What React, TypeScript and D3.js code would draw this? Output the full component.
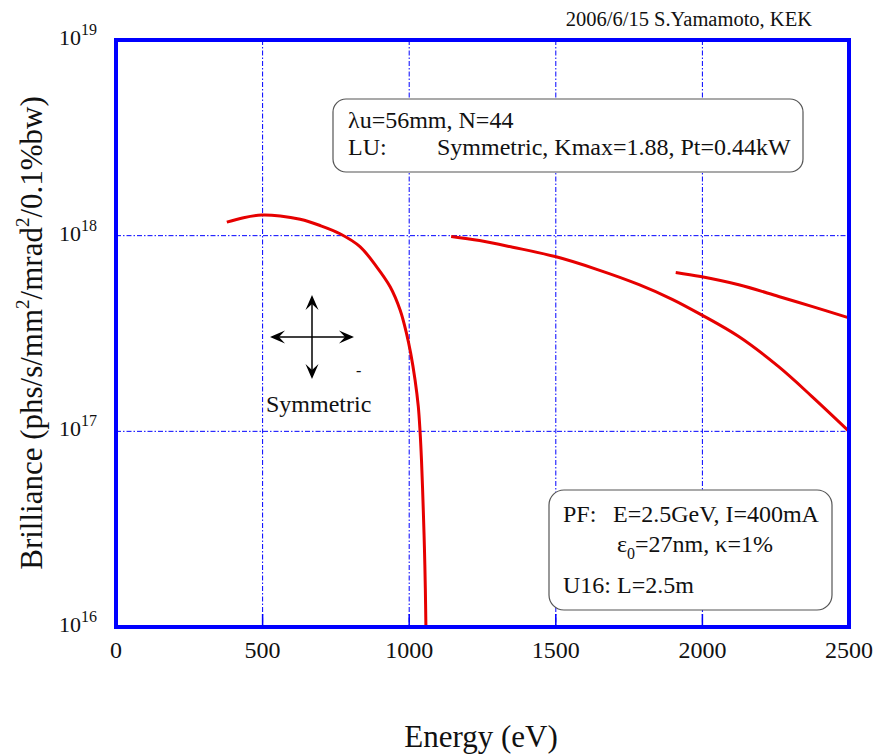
import React from 'react';
import * as d3 from 'd3';

// Brilliance curves (energy in eV, brilliance in phs/s/mm^2/mrad^2/0.1%bw)
const fundEnergy = [378, 435, 497, 560, 628, 696, 764, 832, 889, 935, 969, 991, 1005, 1020, 1031, 1037, 1042, 1048, 1052, 1055, 1057];
const fundBrill = [1.172e18, 1.236e18, 1.276e18, 1.262e18, 1.213e18, 1.127e18, 1.023e18, 8.79e17, 6.93e17, 5.48e17, 4.17e17, 3.16e17, 2.51e17, 1.83e17, 1.34e17, 1.0e17, 7.08e16, 3.98e16, 2.51e16, 1.58e16, 1.0e16];
const thirdEnergy = [1143, 1240, 1353, 1498, 1637, 1784, 1897, 1994, 2124, 2260, 2373, 2500];
const thirdBrill = [9.91e17, 9.44e17, 8.73e17, 7.82e17, 6.75e17, 5.62e17, 4.73e17, 3.96e17, 3.05e17, 2.14e17, 1.51e17, 1.0e17];
const fifthEnergy = [1909, 1994, 2124, 2260, 2373, 2500];
const fifthBrill = [6.49e17, 6.18e17, 5.61e17, 4.89e17, 4.35e17, 3.8e17];

const xTicks = [0, 500, 1000, 1500, 2000, 2500];
const yTicks = [1e16, 1e17, 1e18, 1e19];

const W = 875;
const H = 755;
const FONT = "'Liberation Serif', 'Times New Roman', Times, serif";
const BLUE = '#0000ff';
const RED = '#e60000';
const INK = '#111';

export default function App() {
  const x = d3.scaleLinear().domain([0, 2500]).range([116, 849]);
  const y = d3.scaleLog().domain([1e16, 1e19]).range([627, 40]);

  const line = d3
    .line<[number, number]>()
    .x(d => x(d[0]))
    .y(d => y(d[1]))
    .curve(d3.curveCatmullRom.alpha(0.5));

  const series = [
    d3.zip(fundEnergy, fundBrill) as [number, number][],
    d3.zip(thirdEnergy, thirdBrill) as [number, number][],
    d3.zip(fifthEnergy, fifthBrill) as [number, number][],
  ];

  const [x0, x1] = x.range();
  const [yb, yt] = y.range();

  // arrow cross for the "Symmetric" mark
  const cx = 312;
  const cy = 337;
  const head = (dx: number, dy: number) => {
    const len = Math.hypot(dx, dy);
    const ux = dx / len;
    const uy = dy / len;
    const px = -uy;
    const py = ux;
    const tx = cx + dx;
    const ty = cy + dy;
    const back = 15;
    const wide = 6.5;
    const notch = 9;
    return `M${tx},${ty} L${tx - ux * back + px * wide},${ty - uy * back + py * wide} L${tx - ux * notch},${ty - uy * notch} L${tx - ux * back - px * wide},${ty - uy * back - py * wide} Z`;
  };

  return (
    <div style={{ position: 'absolute', left: 0, top: 0 }}>
      <svg width={W} height={H} style={{ display: 'block', background: '#fff', fontFamily: FONT }}>
        {/* grid */}
        <g stroke={BLUE} strokeWidth={1} strokeDasharray="5,2,1.5,2" fill="none">
          {xTicks.slice(1, -1).map(t => (
            <line key={'gx' + t} x1={x(t)} x2={x(t)} y1={yt} y2={yb} />
          ))}
          {yTicks.slice(1, -1).map(t => (
            <line key={'gy' + t} x1={x0} x2={x1} y1={y(t)} y2={y(t)} />
          ))}
        </g>
        <g stroke={BLUE} strokeWidth={1.5}>
          {xTicks.slice(1, -1).map(t => (
            <line key={'tx' + t} x1={x(t)} x2={x(t)} y1={yb} y2={yb - 13} />
          ))}
        </g>

        {/* curves */}
        <g fill="none" stroke={RED} strokeWidth={3} strokeLinejoin="round">
          {series.map((s, i) => (
            <path key={i} d={line(s) || ''} />
          ))}
        </g>

        {/* frame */}
        <rect x={x0} y={yt} width={x1 - x0} height={yb - yt} fill="none" stroke={BLUE} strokeWidth={4} />

        {/* tick labels */}
        <g fontSize={24} fill={INK} textAnchor="middle">
          {xTicks.map(t => (
            <text key={'lx' + t} x={x(t)} y={658}>
              {t}
            </text>
          ))}
        </g>
        <g fontSize={22} fill={INK} textAnchor="end">
          {yTicks.map(t => (
            <text key={'ly' + t} x={97} y={y(t) + 5}>
              10
              <tspan fontSize={16} dy={-10}>
                {Math.round(Math.log10(t))}
              </tspan>
            </text>
          ))}
        </g>

        {/* axis titles */}
        <text x={481} y={747} fontSize={31} textAnchor="middle" fill={INK}>
          Energy (eV)
        </text>
        <text transform="translate(42,333) rotate(-90)" fontSize={31} textAnchor="middle" fill={INK}>
          Brilliance (phs/s/mm
          <tspan fontSize={19} dy={-13}>2</tspan>
          <tspan dy={13}>/mrad</tspan>
          <tspan fontSize={19} dy={-13}>2</tspan>
          <tspan dy={13}>/0.1%bw)</tspan>
        </text>

        {/* credit */}
        <text x={812} y={26} fontSize={20.5} textAnchor="end" fill={INK}>
          2006/6/15 S.Yamamoto, KEK
        </text>

        {/* undulator box */}
        <rect x={333} y={99} width={470} height={73} rx={13} fill="#fff" stroke="#555" strokeWidth={1.2} />
        <g fontSize={24} fill={INK}>
          <text x={348} y={128}>λu=56mm, N=44</text>
          <text x={348} y={155}>LU:</text>
          <text x={437} y={155}>Symmetric, Kmax=1.88, Pt=0.44kW</text>
        </g>

        {/* ring box */}
        <rect x={549} y={490} width={283} height={120} rx={15} fill="#fff" stroke="#555" strokeWidth={1.2} />
        <g fontSize={24} fill={INK}>
          <text x={563} y={522}>PF:</text>
          <text x={613} y={522}>E=2.5GeV, I=400mA</text>
          <text x={617} y={552}>
            ε<tspan fontSize={16} dy={7}>0</tspan>
            <tspan dy={-7}>=27nm, κ=1%</tspan>
          </text>
          <text x={563} y={593}>U16: L=2.5m</text>
        </g>

        {/* polarisation mark */}
        <g stroke="#000" strokeWidth={1.5}>
          <line x1={cx - 40} x2={cx + 40} y1={cy} y2={cy} />
          <line x1={cx} x2={cx} y1={cy - 40} y2={cy + 40} />
        </g>
        <g fill="#000">
          <path d={head(-42, 0)} />
          <path d={head(42, 0)} />
          <path d={head(0, -42)} />
          <path d={head(0, 42)} />
        </g>
        <text x={356} y={376} fontSize={16} fill={INK}>-</text>
        <text x={266} y={412} fontSize={24} fill={INK}>
          Symmetric
        </text>
      </svg>
    </div>
  );
}
